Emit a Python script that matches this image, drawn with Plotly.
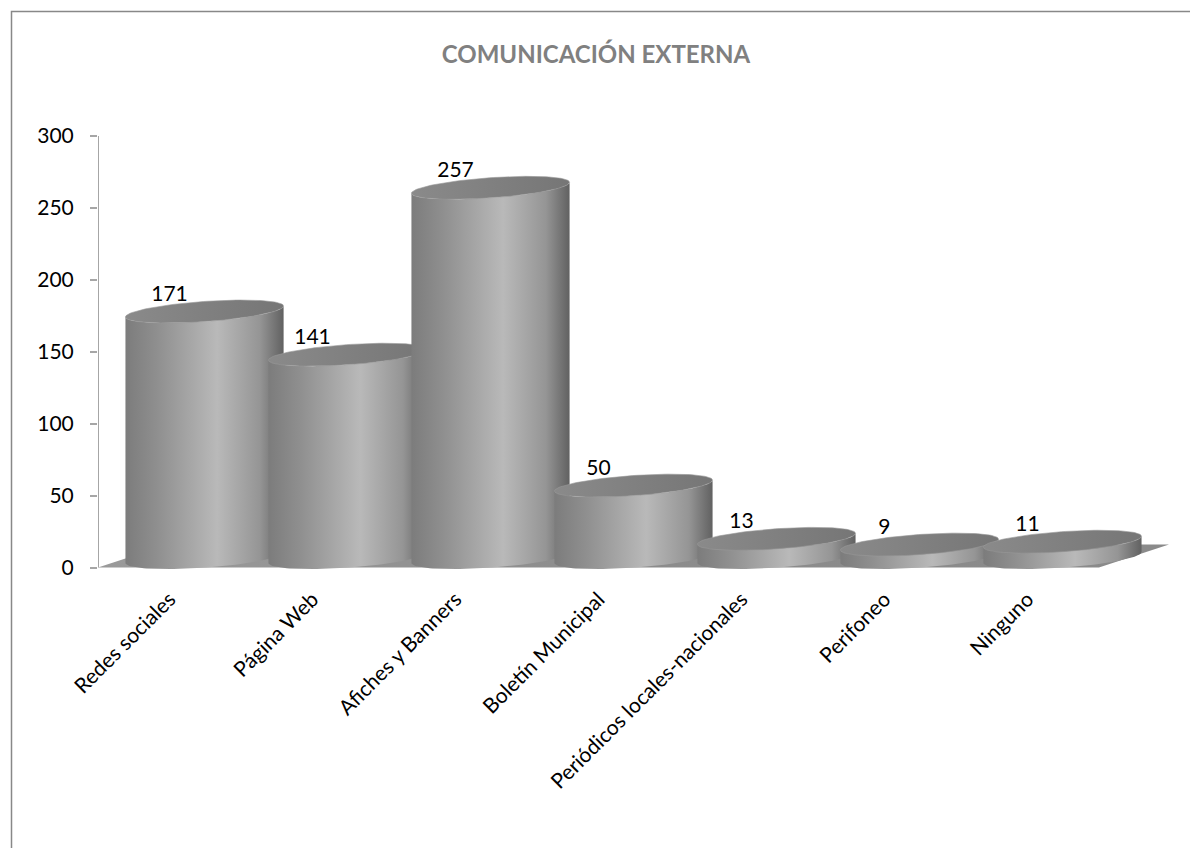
import numpy as np
import plotly.graph_objects as go

# ---- data ----
categories = ["Redes sociales", "Página Web", "Afiches y Banners", "Boletín Municipal",
              "Periódicos locales-nacionales", "Perifoneo", "Ninguno"]
values = [171, 141, 257, 50, 13, 9, 11]
y_ticks = [0, 50, 100, 150, 200, 250, 300]
title_text = "COMUNICACIÓN EXTERNA"

FONT = "Lato"

# ---- pseudo-3D geometry (in data units) ----
depth_dx, depth_dy = 0.49, 16.0      # floor depth offset
cx_shift, cy_shift = depth_dx / 2, 7.0  # cylinders sit in the middle of the floor depth
half_w = 0.553                       # cylinder radius along x
ell_b = 7.0                          # ellipse minor semi-axis (y units)
tilt = 3.8                           # ellipse tilt (y units at the ends)

def ell(xc, yc, t):
    return xc + half_w * np.cos(t), yc + ell_b * np.sin(t) + tilt * np.cos(t)

fig = go.Figure()

# floor
n = len(categories)
fx = [-0.5, n - 0.5, n - 0.5 + depth_dx, -0.5 + depth_dx, -0.5]
fy = [0, 0, depth_dy, depth_dy, 0]
fig.add_trace(go.Scatter(
    x=fx, y=fy, mode="lines", line=dict(width=0), fill="toself",
    fillgradient=dict(type="horizontal",
                      colorscale=[[0, "#9a9a9a"], [0.5, "#8c8c8c"], [1, "#8a8a8a"]]),
    hoverinfo="skip", showlegend=False))

body_scale = [[0, "#7c7c7c"], [0.2, "#8f8f8f"], [0.58, "#b9b9b9"],
              [0.85, "#959595"], [1, "#616161"]]
cap_scale = [[0, "#8a8a8a"], [0.5, "#808080"], [1, "#767676"]]

t_front = np.linspace(np.pi, 2 * np.pi, 60)   # front (lower) half, left -> right
t_full = np.linspace(0, 2 * np.pi, 120)

for i, v in enumerate(values):
    xc = i + cx_shift
    yb = cy_shift
    yt = v + cy_shift
    tx, ty = ell(xc, yt, t_front)             # top front arc left->right
    bx, by = ell(xc, yb, t_front[::-1])       # bottom front arc right->left
    px = np.concatenate([tx, bx, tx[:1]])
    py = np.concatenate([ty, by, ty[:1]])
    fig.add_trace(go.Scatter(
        x=px, y=py, mode="lines", line=dict(width=0), fill="toself",
        fillgradient=dict(type="horizontal", colorscale=body_scale),
        hoverinfo="skip", showlegend=False))
    cx_, cy_ = ell(xc, yt, t_full)
    fig.add_trace(go.Scatter(
        x=cx_, y=cy_, mode="lines", line=dict(width=0.6, color="#999999"), fill="toself",
        fillgradient=dict(type="horizontal", colorscale=cap_scale),
        hoverinfo="skip", showlegend=False))

# data labels
fig.add_trace(go.Scatter(
    x=list(range(n)), y=[v + 18 for v in values], mode="text",
    text=[str(v) for v in values], textposition="middle center",
    textfont=dict(family=FONT, size=21, color="#000000"),
    hoverinfo="skip", showlegend=False, cliponaxis=False))

# y-axis line (0..300)
fig.add_shape(type="line", xref="x", yref="y", x0=-0.5, x1=-0.5, y0=0, y1=max(y_ticks),
              line=dict(color="#a6a6a6", width=2), layer="above")

# outer chart border
fig.add_shape(type="rect", xref="paper", yref="paper",
              x0=(11.5 - 98) / 1071, x1=(1200 - 98) / 1071,
              y0=(582 - 860) / 446, y1=(582 - 11.5) / 446,
              line=dict(color="#888888", width=1.5), layer="below")

fig.update_layout(
    width=1190, height=848,
    margin=dict(l=98, r=21, t=136, b=266),
    paper_bgcolor="white", plot_bgcolor="white",
    title=dict(text="<b>" + title_text + "</b>", x=596 / 1190, xref="container", xanchor="center",
               y=1 - 55 / 848, yref="container", yanchor="middle",
               font=dict(family=FONT, size=24, color="#808080")),
    xaxis=dict(range=[-0.5, n - 0.5 + depth_dx], tickvals=list(range(n)), ticktext=categories,
               tickangle=-45, showgrid=False, zeroline=False, showline=False, ticks="",
               automargin=False,
               tickfont=dict(family=FONT, size=21, color="#000000")),
    yaxis=dict(range=[-10, 300], tickvals=y_ticks, ticks="outside", ticklen=7,
               tickcolor="#a6a6a6", tickwidth=2, showgrid=False, zeroline=False,
               showline=False, ticklabelstandoff=12, automargin=False,
               tickfont=dict(family=FONT, size=21, color="#000000")),
    showlegend=False,
)

fig.write_html("out.html", config={"displayModeBar": False},
               post_script="document.body.style.margin='0';document.body.style.overflow='hidden';")
